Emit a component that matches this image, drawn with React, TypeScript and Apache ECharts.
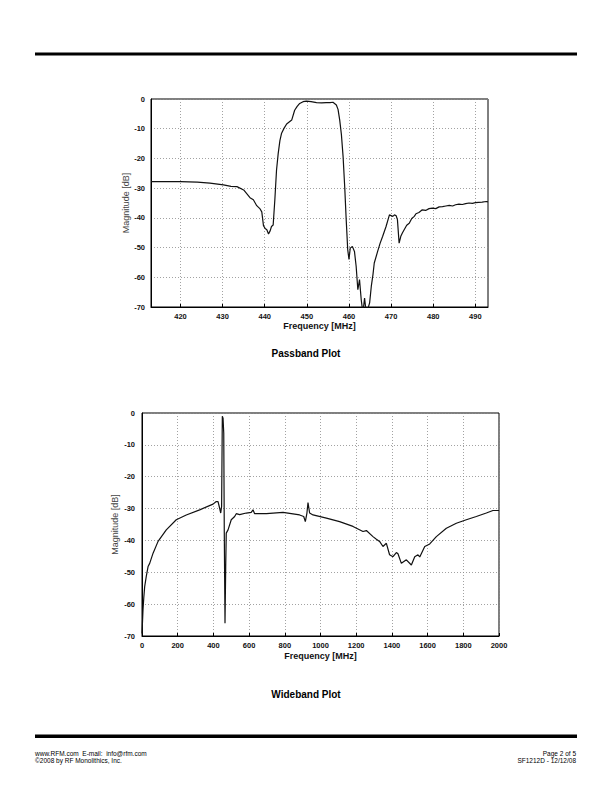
import React, { useEffect, useRef } from "react";
import * as echarts from "echarts";

// Passband plot (frequency MHz, magnitude dB)
const passFreq = [413, 416, 420, 424, 427, 430.2, 432, 433.4, 435, 436.5, 437.3, 438.1, 438.9, 439.3, 439.7, 440.1, 440.5, 440.9, 441.3, 441.6, 442.0, 442.4, 442.8, 443.2, 443.6, 444.0, 444.6, 445.2, 446.4, 447.1, 447.7, 448.3, 449.1, 449.9, 451.0, 452.3, 453.5, 454.6, 455.5, 456.2, 457.0, 457.4, 457.8, 458.2, 458.6, 459.0, 459.3, 459.7, 460.0, 460.3, 460.8, 461.3, 461.7, 462.1, 462.5, 462.9, 463.3, 463.7, 464.1, 464.5, 464.9, 465.3, 465.7, 466.0, 466.8, 467.4, 468.0, 468.8, 469.6, 470.4, 470.8, 471.2, 471.5, 471.9, 472.3, 472.7, 473.1, 473.7, 474.3, 474.9, 475.5, 475.9, 476.6, 477.4, 478.2, 479.0, 479.8, 480.6, 481.4, 482.2, 483.0, 483.8, 484.6, 485.3, 486.1, 486.9, 487.7, 488.5, 489.3, 490.0, 490.8, 491.6, 492.6, 493];
const passMag = [-27.8, -27.8, -27.8, -28.0, -28.3, -28.9, -29.4, -29.5, -30.6, -33.2, -33.9, -35.9, -37.0, -38.0, -42.6, -43.6, -44.0, -45.4, -44.3, -42.9, -42.4, -33.9, -23.9, -18.3, -14.0, -11.5, -9.8, -8.4, -7.1, -3.8, -2.5, -1.5, -0.9, -0.7, -0.9, -1.2, -1.3, -1.2, -1.2, -1.1, -2.0, -3.5, -7.1, -12.0, -19.4, -30.0, -39.5, -50.7, -54.0, -50.2, -49.6, -51.3, -56.3, -64.2, -60.8, -67.5, -72.0, -67.0, -72.0, -70.5, -68.6, -63.0, -59.0, -55.2, -51.3, -48.5, -46.2, -42.9, -39.0, -39.5, -39.0, -39.3, -40.6, -48.5, -46.2, -45.0, -44.0, -42.5, -41.8, -40.2, -39.5, -38.6, -38.2, -37.3, -37.5, -36.9, -36.7, -36.9, -36.3, -36.2, -36.0, -35.8, -36.0, -35.6, -35.4, -35.5, -35.2, -35.0, -35.1, -34.9, -34.8, -34.7, -34.5, -34.6];

// Wideband plot (frequency MHz, magnitude dB)
const wideFreq = [0, 5.6, 10, 15, 24, 34, 43, 62, 90, 136, 192, 248, 323, 398, 416, 426, 435, 441, 446, 450, 454, 458, 461, 465, 469, 472, 482, 500, 519, 528, 547, 584, 612, 622, 631, 697, 790, 883, 906, 915, 924, 930, 939, 958, 1033, 1107, 1182, 1238, 1257, 1294, 1313, 1331, 1350, 1369, 1387, 1406, 1425, 1434, 1453, 1481, 1509, 1528, 1546, 1556, 1584, 1612, 1649, 1705, 1761, 1817, 1873, 1929, 1966, 2000];
const wideMag = [-69.2, -61.8, -58.0, -54.5, -51.3, -48.2, -47.2, -44.0, -40.3, -36.7, -33.5, -32.0, -30.4, -28.6, -27.8, -27.8, -29.9, -31.4, -29.3, -1.0, -1.6, -6.3, -37.7, -66.0, -48.2, -37.7, -36.7, -33.5, -32.5, -31.6, -31.9, -31.4, -31.2, -30.4, -31.6, -31.6, -31.2, -32.0, -32.5, -34.1, -31.4, -28.1, -31.4, -32.0, -33.0, -34.1, -35.6, -37.2, -36.9, -38.8, -39.6, -40.3, -41.9, -40.9, -44.5, -45.1, -43.8, -44.2, -47.2, -46.1, -47.7, -45.1, -44.5, -45.2, -41.9, -41.1, -38.8, -36.2, -34.6, -33.5, -32.5, -31.4, -30.6, -30.6];

const passTicks = [420, 430, 440, 450, 460, 470, 480, 490];

const FONT = "'Liberation Sans', Arial, sans-serif";

export default function App() {
  const ref = useRef<HTMLDivElement>(null);
  useEffect(() => {
    if (!ref.current) return;
    const chart = echarts.init(ref.current, undefined, { renderer: "svg" });
    const axisLabel = { fontSize: 7.5, fontWeight: "bold" as const, color: "#111", fontFamily: FONT, formatter: (v: number) => String(v) };
    const splitLine = { show: true, lineStyle: { color: "#8a8a8a", type: [1, 2] as any, width: 0.8 } };
    const xAxisCommon = (idx: number, min: number, max: number, interval: number, gap: number, custom?: number[]) => ({
      type: "value" as const,
      gridIndex: idx,
      min,
      max,
      interval,
      name: "Frequency [MHz]",
      nameLocation: "middle" as const,
      nameGap: gap,
      nameMoveOverlap: false,
      nameTextStyle: { fontSize: 9, fontWeight: "bold" as const, color: "#111", fontFamily: FONT },
      axisLine: { show: true, onZero: false, lineStyle: { color: "#000", width: 1 } },
      axisTick: { show: true, inside: true, length: 3, lineStyle: { color: "#000" }, ...(custom ? { customValues: custom } : {}) },
      axisLabel: { ...axisLabel, margin: 5, ...(custom ? { customValues: custom } : {}) },
      splitLine: { ...splitLine, ...(custom ? { customValues: custom } : {}) },
    });
    const yAxisCommon = (idx: number, gap: number, margin: number) => ({
      type: "value" as const,
      gridIndex: idx,
      min: -70,
      max: 0,
      interval: 10,
      name: "Magnitude [dB]",
      nameLocation: "middle" as const,
      nameGap: gap,
      nameMoveOverlap: false,
      nameTextStyle: { fontSize: 9, color: "#444", fontFamily: FONT },
      axisLine: { show: true, onZero: false, lineStyle: { color: "#000", width: 1 } },
      axisTick: { show: false },
      axisLabel: { ...axisLabel, margin },
      splitLine,
    });
    chart.setOption({
      animation: false,
      backgroundColor: "#fff",
      grid: [
        { left: 151, top: 99, width: 337, height: 208, show: true, borderColor: "#000", borderWidth: 1 },
        { left: 142, top: 413, width: 357, height: 223, show: true, borderColor: "#000", borderWidth: 1 },
      ],
      xAxis: [
        xAxisCommon(0, 413, 493, 10, 14, passTicks),
        xAxisCommon(1, 0, 2000, 200, 15),
      ],
      yAxis: [yAxisCommon(0, 21, 6), yAxisCommon(1, 23, 7)],
      series: [
        {
          type: "line",
          xAxisIndex: 0,
          yAxisIndex: 0,
          data: passFreq.map((f, i) => [f, passMag[i]]),
          showSymbol: false,
          clip: true,
          lineStyle: { color: "#111", width: 1.2 },
        },
        {
          type: "line",
          xAxisIndex: 1,
          yAxisIndex: 1,
          data: wideFreq.map((f, i) => [f, wideMag[i]]),
          showSymbol: false,
          clip: true,
          lineStyle: { color: "#111", width: 1.2 },
        },
      ],
      graphic: [
        { type: "rect", shape: { x: 35, y: 52.5, width: 542, height: 3 }, style: { fill: "#000" } },
        { type: "rect", shape: { x: 35, y: 734.5, width: 542, height: 3.5 }, style: { fill: "#000" } },
        { type: "text", x: 306, y: 353, style: { text: "Passband Plot", font: `bold 10px ${FONT}`, fill: "#000", align: "center", verticalAlign: "middle" } },
        { type: "text", x: 306, y: 694, style: { text: "Wideband Plot", font: `bold 10px ${FONT}`, fill: "#000", align: "center", verticalAlign: "middle" } },
        { type: "text", x: 35, y: 753, style: { text: "www.RFM.com  E-mail:  info@rfm.com", font: `6.5px ${FONT}`, fill: "#000", align: "left", verticalAlign: "middle" } },
        { type: "text", x: 35, y: 760, style: { text: "©2008 by RF Monolithics, Inc.", font: `6.5px ${FONT}`, fill: "#000", align: "left", verticalAlign: "middle" } },
        { type: "text", x: 576, y: 753, style: { text: "Page 2 of 5", font: `6.5px ${FONT}`, fill: "#000", align: "right", verticalAlign: "middle" } },
        { type: "text", x: 576, y: 760, style: { text: "SF1212D - 12/12/08", font: `6.5px ${FONT}`, fill: "#000", align: "right", verticalAlign: "middle" } },
      ],
    });
    return () => chart.dispose();
  }, []);
  return <div ref={ref} style={{ position: "absolute", left: 0, top: 0, width: 612, height: 792 }} />;
}
